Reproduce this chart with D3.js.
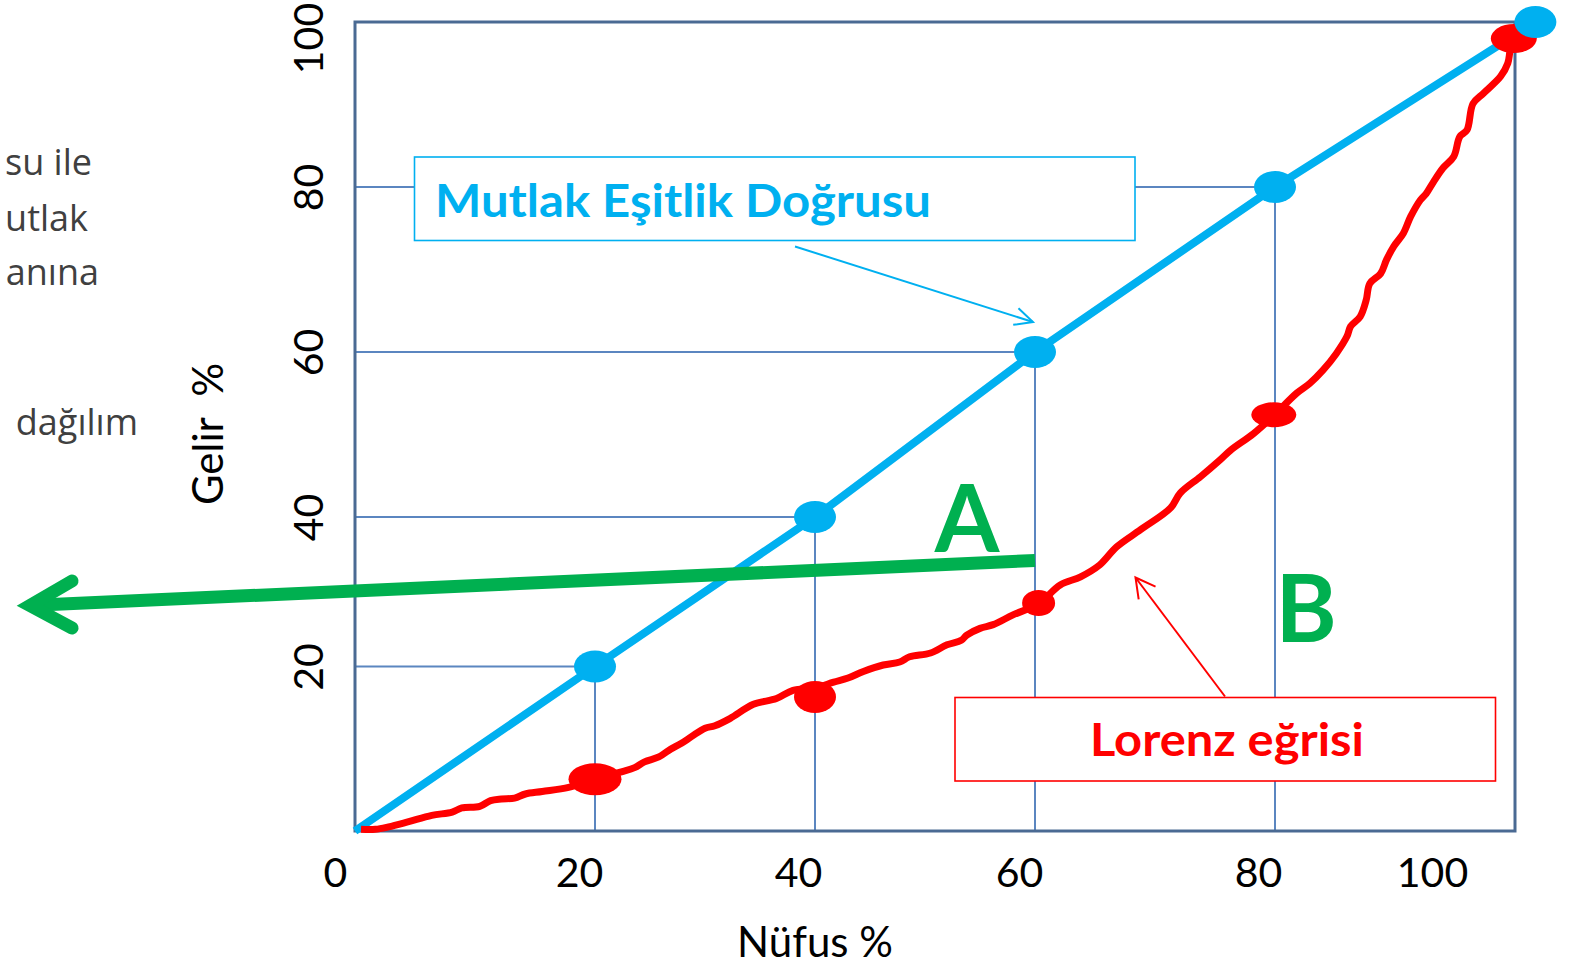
<!DOCTYPE html>
<html>
<head>
<meta charset="utf-8">
<script src="https://cdn.jsdelivr.net/npm/d3@7"></script>
<style>
  body { margin: 0; background: #fff; }
  svg { display: block; }
</style>
</head>
<body>
<svg id="chart" width="1578" height="967"></svg>
<script>
// ---- data ----
const ticks = [0, 20, 40, 60, 80, 100];
const xTickLabels = ["0", "20", "40", "60", "80", "100"];
const yTicks = [20, 40, 60, 80, 100];
const yTickLabels = ["20", "40", "60", "80", "100"];

// mutlak eşitlik doğrusu
const equalX = [0, 20, 40, 60, 80, 101.7];
const equalY = [0, 20, 40, 60, 80, 100];
const equalDotX = [20, 40, 60, 80, 101.7];
const equalDotY = [20, 40, 60, 80, 100];

// lorenz eğrisi (hand drawn)
const lorenzX = [0.5,1.7,2.8,4.4,6.4,8.1,8.9,10.4,11.3,12.2,13.3,14.2,15.6,17.8,20.0,22.4,23.6,24.5,25.8,26.7,
  27.9,28.8,30.0,30.9,32.3,34.4,36.5,38.0,40.0,41.7,43.0,44.4,46.2,47.7,48.6,50.5,52.0,53.3,53.8,55.0,
  56.2,58.0,60.3,62.1,63.8,65.4,66.8,68.8,71.3,72.1,73.8,75.4,76.3,78.2,79.9,81.8,82.9,84.0,85.1,86.0,
  86.3,87.1,87.6,87.9,88.8,89.3,89.9,90.7,91.3,92.1,92.6,93.2,94.0,94.9,95.4,96.0,96.5,97.4,98.8,99.4,
  99.6,99.9];
const lorenzY = [0.2,0.2,0.5,1.1,1.9,2.3,2.8,3.0,3.7,3.9,4.0,4.5,4.8,5.3,6.3,7.2,7.7,8.4,9.0,9.8,
  10.7,11.5,12.5,12.8,13.7,15.4,16.1,17.1,17.4,18.1,18.6,19.4,20.2,20.6,21.3,21.8,22.9,23.5,24.2,25.1,
  25.6,26.9,28.4,30.9,32.0,33.6,36.0,38.3,41.1,42.9,44.9,46.9,48.1,50.1,52.3,55.0,56.2,57.8,59.8,61.9,
  63.1,64.3,66.3,68.3,69.5,71.2,72.8,74.4,76.4,78.4,79.2,80.6,82.3,83.7,86.1,86.9,90.1,91.4,93.4,95.0,
  96.6,98.0];
const lorenzDotX = [20, 40, 60.3, 79.9, 99.9];
const lorenzDotY = [6.3, 16.3, 28.5, 52.4, 98.0];

// ---- layout / style ----
const FONT = "Lato, 'Open Sans', sans-serif";
const BLUE = "#00b0f0", RED = "#ff0000", GREEN = "#00b050";
const FRAME = "#4a6a93", GRID = "#5b86c0";
const xLabelNudge = [-20, -16, -17, -16, -17, -83];
const yLabelNudge = [0, 0, 0, 0, 16];
const redDotRx = [26.5, 21, 16.5, 22.5, 23];
const redDotRy = [16, 16, 13, 12.5, 14.5];

const svg = d3.select("#chart");

// the hand drawn grid is not evenly spaced, so a polylinear scale follows it
const x = d3.scaleLinear().domain(ticks).range([355, 595, 815, 1035, 1275, 1515]);
const y = d3.scaleLinear().domain(ticks).range([831, 666.5, 517, 352, 187, 22]);

// left side text, cut off by the slide edge
const sideText = [["su ile", 92, 175], ["utlak", 88, 231], ["anına", 99, 285], ["dağılım", 138, 435]];
svg.append("g").selectAll("text")
  .data(sideText)
  .join("text")
    .attr("x", d => d[1])
    .attr("y", d => d[2])
    .attr("text-anchor", "end")
    .attr("font-family", "'Open Sans', sans-serif")
    .attr("font-size", 36)
    .attr("fill", "#404040")
    .text(d => d[0]);

// grid lines from the axes to the equality points
const grid = svg.append("g").attr("stroke", GRID).attr("stroke-width", 2);
grid.selectAll(".h")
  .data([20, 40, 60, 80])
  .join("line")
    .attr("x1", x(0)).attr("x2", d => x(d))
    .attr("y1", d => y(d)).attr("y2", d => y(d));
grid.selectAll(".v")
  .data([20, 40, 60, 80])
  .join("line")
    .attr("x1", d => x(d)).attr("x2", d => x(d))
    .attr("y1", y(0)).attr("y2", d => y(d));

// frame
svg.append("rect")
  .attr("x", x(0))
  .attr("y", y(100))
  .attr("width", x(100) - x(0))
  .attr("height", y(0) - y(100))
  .attr("fill", "none")
  .attr("stroke", FRAME)
  .attr("stroke-width", 3);

// axes labels
const gx = svg.append("g")
  .attr("transform", `translate(0,${y(0)})`)
  .call(d3.axisBottom(x).tickValues(ticks).tickSize(0).tickFormat((d, i) => xTickLabels[i]));
gx.select(".domain").remove();
gx.attr("font-family", FONT).attr("font-size", 41);
gx.selectAll("text")
  .attr("fill", "#000")
  .attr("y", 56)
  .attr("dy", 0)
  .attr("dx", (d, i) => xLabelNudge[i]);

const gy = svg.append("g")
  .attr("transform", "translate(323,0)")
  .call(d3.axisLeft(y).tickValues(yTicks).tickSize(0).tickFormat((d, i) => yTickLabels[i]));
gy.select(".domain").remove();
gy.attr("font-family", FONT).attr("font-size", 41);
gy.selectAll("text")
  .attr("fill", "#000")
  .attr("text-anchor", "middle")
  .attr("x", (d, i) => -yLabelNudge[i])
  .attr("y", 0)
  .attr("dy", 0)
  .attr("transform", "rotate(-90)");

svg.append("text")
  .attr("x", 815)
  .attr("y", 957)
  .attr("text-anchor", "middle")
  .attr("font-family", FONT)
  .attr("font-size", 42)
  .attr("fill", "#000")
  .text("Nüfus %");

svg.append("text")
  .attr("transform", "translate(223,434) rotate(-90)")
  .attr("text-anchor", "middle")
  .attr("font-family", FONT)
  .attr("font-size", 42)
  .attr("fill", "#000")
  .attr("xml:space", "preserve")
  .style("white-space", "pre")
  .text("Gelir  %");

// lines
const line = d3.line()
  .x(d => x(d[0]))
  .y(d => y(d[1]));

svg.append("path")
  .datum(d3.zip(equalX, equalY))
  .attr("d", line)
  .attr("fill", "none")
  .attr("stroke", BLUE)
  .attr("stroke-width", 8);

svg.append("path")
  .datum(d3.zip(lorenzX, lorenzY))
  .attr("d", line.curve(d3.curveCatmullRom.alpha(0.5)))
  .attr("fill", "none")
  .attr("stroke", RED)
  .attr("stroke-width", 7)
  .attr("stroke-linejoin", "round");

svg.append("g").selectAll("ellipse")
  .data(d3.zip(lorenzDotX, lorenzDotY))
  .join("ellipse")
    .attr("cx", d => x(d[0]))
    .attr("cy", d => y(d[1]))
    .attr("rx", (d, i) => redDotRx[i])
    .attr("ry", (d, i) => redDotRy[i])
    .attr("fill", RED);

svg.append("g").selectAll("ellipse")
  .data(d3.zip(equalDotX, equalDotY))
  .join("ellipse")
    .attr("cx", d => x(d[0]))
    .attr("cy", d => y(d[1]))
    .attr("rx", 21)
    .attr("ry", 16)
    .attr("fill", BLUE);

// green arrow
svg.append("line")
  .attr("x1", 1035).attr("y1", 560.5)
  .attr("x2", 40).attr("y2", 605)
  .attr("stroke", GREEN)
  .attr("stroke-width", 13);
svg.append("polyline")
  .attr("points", "72,581 30,605.5 72,628")
  .attr("fill", "none")
  .attr("stroke", GREEN)
  .attr("stroke-width", 13)
  .attr("stroke-linecap", "round")
  .attr("stroke-linejoin", "miter")
  .attr("stroke-miterlimit", 10);

svg.append("text")
  .attr("x", 967).attr("y", 552)
  .attr("text-anchor", "middle")
  .attr("font-family", FONT).attr("font-weight", "bold")
  .attr("font-size", 93)
  .attr("fill", GREEN)
  .text("A");
svg.append("text")
  .attr("x", 1306).attr("y", 642)
  .attr("text-anchor", "middle")
  .attr("font-family", FONT).attr("font-weight", "bold")
  .attr("font-size", 93)
  .attr("fill", GREEN)
  .text("B");

// callouts
function arrow(x1, y1, x2, y2, color, len, ang) {
  const a = Math.atan2(y1 - y2, x1 - x2);
  svg.append("line")
    .attr("x1", x1).attr("y1", y1).attr("x2", x2).attr("y2", y2)
    .attr("stroke", color).attr("stroke-width", 2);
  const p1 = [x2 + len * Math.cos(a + ang), y2 + len * Math.sin(a + ang)];
  const p2 = [x2 + len * Math.cos(a - ang), y2 + len * Math.sin(a - ang)];
  svg.append("polyline")
    .attr("points", `${p1} ${x2},${y2} ${p2}`)
    .attr("fill", "none")
    .attr("stroke", color).attr("stroke-width", 2);
}

svg.append("rect")
  .attr("x", 414.5).attr("y", 157)
  .attr("width", 720.5).attr("height", 83.5)
  .attr("fill", "#fff")
  .attr("stroke", BLUE)
  .attr("stroke-width", 1.6);
svg.append("text")
  .attr("x", 435).attr("y", 216.5)
  .attr("font-family", FONT).attr("font-weight", "bold")
  .attr("font-size", 46)
  .attr("fill", BLUE)
  .attr("textLength", 496)
  .attr("lengthAdjust", "spacingAndGlyphs")
  .text("Mutlak Eşitlik Doğrusu");
arrow(795, 246.5, 1033, 322, BLUE, 20, 0.45);

svg.append("rect")
  .attr("x", 955).attr("y", 697.5)
  .attr("width", 540.5).attr("height", 83.5)
  .attr("fill", "#fff")
  .attr("stroke", RED)
  .attr("stroke-width", 1.6);
svg.append("text")
  .attr("x", 1090).attr("y", 756)
  .attr("font-family", FONT).attr("font-weight", "bold")
  .attr("font-size", 45)
  .attr("fill", RED)
  .attr("textLength", 274)
  .attr("lengthAdjust", "spacingAndGlyphs")
  .text("Lorenz eğrisi");
arrow(1225, 696.5, 1135.5, 577.5, RED, 22, 0.5);
</script>
</body>
</html>
